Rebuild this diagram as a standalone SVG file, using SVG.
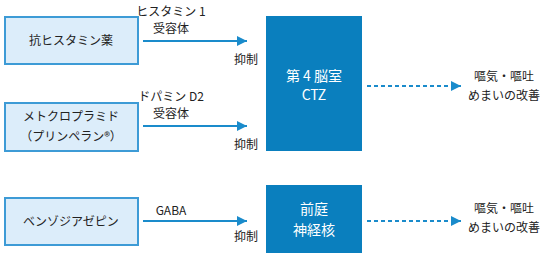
<svg xmlns="http://www.w3.org/2000/svg" width="548" height="257" viewBox="0 0 548 257">
<style>
.src{fill:#dcedfa;stroke:#3d9bd6;stroke-width:2}
.tgt{fill:#0a7fbe}
.t{font-family:"Noto Sans CJK JP","Liberation Sans",sans-serif;font-size:12px;fill:#222;text-anchor:middle}
.w{fill:#fff;font-size:14px}
.ln{stroke:#1a8bcb;stroke-width:2;fill:none}
.dash{stroke-dasharray:4 3}
</style>
<defs>
<marker id="ah" viewBox="0 0 10 10" refX="10" refY="5" markerWidth="10" markerHeight="10" markerUnits="userSpaceOnUse" orient="auto">
<path d="M0,0 L10,5 L0,10 Z" fill="#1a8bcb"/>
</marker>
</defs>
<g id="n-antihist"><rect class="src" x="5" y="17" width="133" height="47"/><text class="t" x="71" y="45">抗ヒスタミン薬</text></g>
<g id="n-metoclo"><rect class="src" x="5" y="103" width="133" height="48"/><text class="t" x="71" y="121">メトクロプラミド</text><text class="t" x="71" y="141">（プリンペラン®）</text></g>
<g id="n-benzo"><rect class="src" x="5" y="198" width="133" height="47"/><text class="t" x="71" y="226">ベンゾジアゼピン</text></g>
<g id="n-ctz"><rect class="tgt" x="266" y="16" width="96" height="135"/><text class="t w" x="314" y="81">第 4 脳室</text><text class="t w" x="314" y="100">CTZ</text></g>
<g id="n-vest"><rect class="tgt" x="266" y="185" width="96" height="68"/><text class="t w" x="314" y="214">前庭</text><text class="t w" x="314" y="235">神経核</text></g>
<g id="n-out1"><text class="t" x="504" y="81">嘔気・嘔吐</text><text class="t" x="504" y="100">めまいの改善</text></g>
<g id="n-out2"><text class="t" x="504" y="213">嘔気・嘔吐</text><text class="t" x="504" y="232">めまいの改善</text></g>
<g id="connectors">
<line class="ln" x1="143" y1="41" x2="247" y2="41" marker-end="url(#ah)"/>
<line class="ln" x1="143" y1="126" x2="247" y2="126" marker-end="url(#ah)"/>
<line class="ln" x1="143" y1="221" x2="247" y2="221" marker-end="url(#ah)"/>
<line class="ln dash" x1="367" y1="86" x2="461" y2="86" marker-end="url(#ah)"/>
<line class="ln dash" x1="367" y1="221" x2="461" y2="221" marker-end="url(#ah)"/>
<text class="t" x="171" y="16">ヒスタミン 1</text>
<text class="t" x="171" y="33">受容体</text>
<text class="t" x="246" y="64">抑制</text>
<text class="t" x="171" y="101">ドパミン D2</text>
<text class="t" x="171" y="118">受容体</text>
<text class="t" x="246" y="149">抑制</text>
<text class="t" x="171" y="215">GABA</text>
<text class="t" x="246" y="241">抑制</text>
</g>
</svg>
